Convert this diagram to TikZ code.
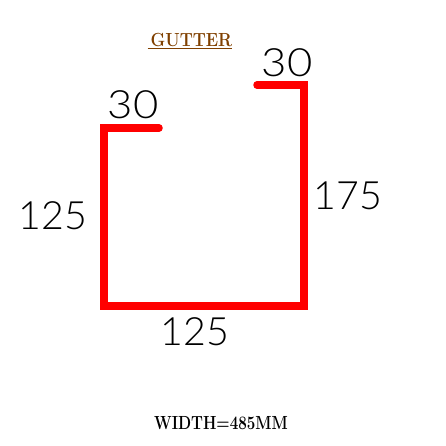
\documentclass[tikz,border=0pt]{standalone}
\usepackage{fontspec}
\usepackage{xcolor}
\setsansfont{Lato Light}
\definecolor{gutterbrown}{HTML}{804000}
\tikzset{
	dimlabel/.style={font=\sffamily\fontsize{39}{39}\selectfont,text=black,inner sep=0pt,xscale=1.12},
	titlelabel/.style={font=\bfseries\fontsize{19}{19}\selectfont,inner sep=0pt,xscale=0.8},
	gutterline/.style={draw=red,line width=7.5pt,line cap=round,line join=miter}
}
\begin{document}
\begin{tikzpicture}[x=1pt,y=-1pt]
	\useasboundingbox (0,0) rectangle (445,446);
	\coordinate (A) at (159,128);
	\coordinate (B) at (104,128);
	\coordinate (C) at (104,306);
	\coordinate (D) at (304,306);
	\coordinate (E) at (304,85);
	\coordinate (F) at (257,85);
	\draw[gutterline] (A) -- (B) -- (C) -- (D) -- (E) -- (F);
	\node[titlelabel,text=gutterbrown,xscale=1.1] (title) at (190,41) {\underline{\,GUTTER}};
	\node[dimlabel] (flangeleft) at (133,105) {30};
	\node[dimlabel] (flangeright) at (287,63) {30};
	\node[dimlabel,xscale=0.9] (sideleft) at (53,216) {125};
	\node[dimlabel,xscale=0.9] (sideright) at (348,196) {175};
	\node[dimlabel,xscale=0.9] (bottom) at (195,332) {125};
	\node[titlelabel] (width) at (221,423) {WIDTH=485MM};
\end{tikzpicture}
\end{document}
